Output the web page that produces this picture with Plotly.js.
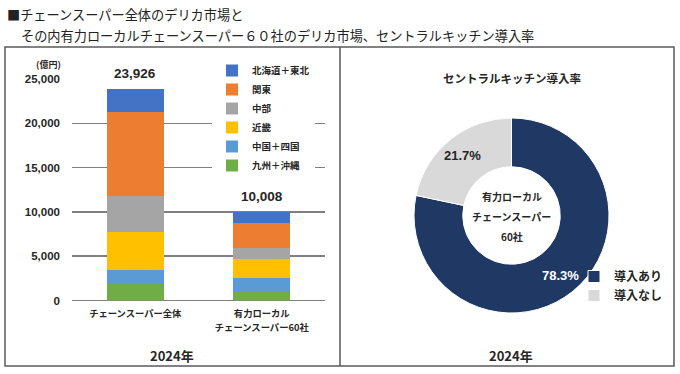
<!DOCTYPE html>
<html><head><meta charset="utf-8">
<script src="https://cdn.plot.ly/plotly-3.0.1.min.js"></script>
<style>html,body{margin:0;padding:0;background:#fff}#chart{width:680px;height:374px}</style>
</head><body><div id="chart"></div>
<script>
const categories = ['チェーンスーパー全体', '有力ローカル<br>チェーンスーパー60社'];
const regionNames = ['九州＋沖縄', '中国＋四国', '近畿', '中部', '関東', '北海道＋東北'];
const kyushu = [1830, 1070];
const chugoku = [1610, 1430];
const kinki = [4330, 2150];
const chubu = [4030, 1240];
const kanto = [9440, 2820];
const hokkaido = [2686, 1298];
const totals = [23926, 10008];
const regionColors = ['#70AD47', '#5B9BD5', '#FFC000', '#A5A5A5', '#ED7D31', '#4472C4'];
const yTickVals = [0, 5000, 10000, 15000, 20000, 25000];
const pieLabels = ['導入あり', '導入なし'];
const pieValues = [78.3, 21.7];
const pieColors = ['#203864', '#D9D9D9'];
const pieTextColors = ['#ffffff', '#262626'];
const pieCenterLines = ['有力ローカル', 'チェーンスーパー', '60社'];
const titleLines = ['■チェーンスーパー全体のデリカ市場と', 'その内有力ローカルチェーンスーパー６０社のデリカ市場、セントラルキッチン導入率'];
const pieTitle = 'セントラルキッチン導入率';
const yearLabel = '2024年';
const unitLabel = '(億円)';

const W = 680, H = 374;
const px = x => x / W;
const py = y => 1 - y / H;
const JP = '"Noto Sans CJK JP", sans-serif';
const NUM = '"Liberation Sans", "Noto Sans CJK JP", sans-serif';
const INK = '#262626';

// donut geometry (pixels)
const PIE_CX = 511.5, PIE_CY = 215.5, PIE_R = 97.5, PIE_HOLE = 0.5;

const seriesValues = [kyushu, chugoku, kinki, chubu, kanto, hokkaido];
const traces = seriesValues.map((vals, i) => ({
  type: 'bar', x: categories, y: vals, name: regionNames[i],
  marker: {color: regionColors[i], line: {width: 0}},
  hoverinfo: 'skip', legend: 'legend'
}));

traces.push({
  type: 'pie', labels: pieLabels, values: pieValues, hole: PIE_HOLE,
  sort: false, direction: 'clockwise', rotation: 0,
  marker: {colors: pieColors, line: {color: '#ffffff', width: 1}},
  textinfo: 'none',
  domain: {x: [px(PIE_CX - PIE_R), px(PIE_CX + PIE_R)], y: [py(PIE_CY + PIE_R), py(PIE_CY - PIE_R)]},
  legend: 'legend2', hoverinfo: 'skip'
});

const annotations = [];
totals.forEach((t, i) => annotations.push({
  x: categories[i], y: t, xref: 'x', yref: 'y', text: t.toLocaleString('en-US'),
  showarrow: false, yanchor: 'bottom', yshift: 4, bgcolor: '#ffffff', borderpad: 3,
  font: {family: NUM, size: 13.5, color: INK, weight: 'bold'}
}));

// percentage labels at slice mid-angle, ring middle
const pieSum = pieValues.reduce((a, b) => a + b, 0);
let cum = 0;
const ringMid = PIE_R * (1 + PIE_HOLE) / 2 + 4;
pieValues.forEach((v, i) => {
  const mid = (cum + v / 2) / pieSum * 2 * Math.PI;
  cum += v;
  const x = PIE_CX + ringMid * Math.sin(mid);
  const y = PIE_CY - ringMid * Math.cos(mid);
  annotations.push({x: px(x), y: py(y), xref: 'paper', yref: 'paper', xanchor: 'center', yanchor: 'middle',
    text: (v / pieSum * 100).toFixed(1) + '%', showarrow: false,
    font: {family: NUM, size: 13, color: pieTextColors[i], weight: 'bold'}});
});

annotations.push({x: px(5), y: py(14), xref: 'paper', yref: 'paper', xanchor: 'left', yanchor: 'middle',
  text: titleLines[0], showarrow: false, font: {family: JP, size: 13.2, color: '#222'}});
annotations.push({x: px(19), y: py(36), xref: 'paper', yref: 'paper', xanchor: 'left', yanchor: 'middle',
  text: titleLines[1], showarrow: false, font: {family: JP, size: 13.2, color: '#222'}});
annotations.push({x: px(48), y: py(64), xref: 'paper', yref: 'paper', xanchor: 'center', yanchor: 'middle',
  text: unitLabel, showarrow: false, font: {family: JP, size: 9, color: INK, weight: 'bold'}});
annotations.push({x: px(172), y: py(355), xref: 'paper', yref: 'paper', xanchor: 'center', yanchor: 'middle',
  text: yearLabel, showarrow: false, font: {family: JP, size: 13, color: INK, weight: 'bold'}});
annotations.push({x: px(511), y: py(355), xref: 'paper', yref: 'paper', xanchor: 'center', yanchor: 'middle',
  text: yearLabel, showarrow: false, font: {family: JP, size: 13, color: INK, weight: 'bold'}});
annotations.push({x: px(512), y: py(78), xref: 'paper', yref: 'paper', xanchor: 'center', yanchor: 'middle',
  text: pieTitle, showarrow: false, font: {family: JP, size: 11.5, color: INK, weight: 'bold'}});
pieCenterLines.forEach((s, i) => annotations.push({x: px(PIE_CX), y: py(196 + 20 * i), xref: 'paper', yref: 'paper',
  xanchor: 'center', yanchor: 'middle', text: s, showarrow: false,
  font: {family: JP, size: 10, color: INK, weight: 'bold'}}));

const frame = {color: '#595959', width: 1.5};
const shapes = [
  {type: 'rect', xref: 'paper', yref: 'paper', x0: px(5), x1: px(674), y0: py(366), y1: py(47), line: frame, layer: 'below'},
  {type: 'line', xref: 'paper', yref: 'paper', x0: px(340), x1: px(340), y0: py(366), y1: py(47), line: frame, layer: 'below'}
];

// category tick text: small glyphs, roomy line spacing
const catTickText = categories.map(c => c.split('<br>')
  .map(s => '<span style="font-size:9.3px">' + s + '</span>').join('<br>'));

const layout = {
  width: W, height: H, margin: {l: 0, r: 0, t: 0, b: 0},
  paper_bgcolor: '#ffffff', plot_bgcolor: '#ffffff',
  barmode: 'stack', bargap: 0.55, showlegend: true,
  xaxis: {domain: [px(72), px(325)], type: 'category', showline: false, showgrid: false, zeroline: false,
    tickmode: 'array', tickvals: categories, ticktext: catTickText,
    ticks: '', ticklabelstandoff: 4, fixedrange: true,
    tickfont: {family: JP, size: 11.2, color: INK, weight: 'bold'}},
  yaxis: {domain: [py(300.5), py(79)], range: [0, 25000], tickvals: yTickVals, tickformat: ',d',
    showgrid: true, gridcolor: '#808080', gridwidth: 1.5, zeroline: true, zerolinecolor: '#808080', zerolinewidth: 1.5,
    showline: false, ticks: '', ticklabelstandoff: 11, fixedrange: true,
    tickfont: {family: NUM, size: 11.5, color: INK, weight: 'bold'}},
  legend: {x: px(212), y: py(56), xanchor: 'left', yanchor: 'top', bgcolor: '#ffffff', traceorder: 'reversed',
    font: {family: JP, size: 9.5, color: INK, weight: 'bold'}, itemwidth: 30, tracegroupgap: 0},
  legend2: {x: px(574), y: py(262), xanchor: 'left', yanchor: 'top', bgcolor: 'rgba(0,0,0,0)',
    font: {family: JP, size: 12, color: INK, weight: 'bold'}},
  annotations: annotations, shapes: shapes
};

Plotly.newPlot('chart', traces, layout, {displayModeBar: false, staticPlot: true});
</script></body></html>
